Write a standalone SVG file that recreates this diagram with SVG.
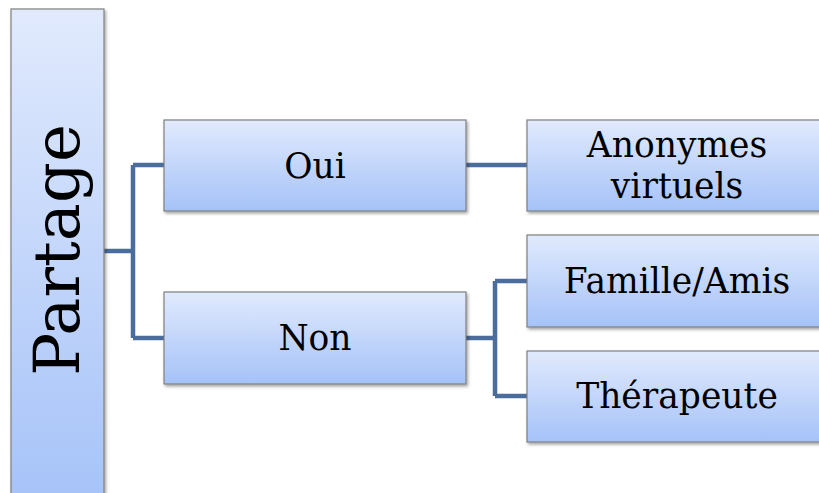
<svg xmlns="http://www.w3.org/2000/svg" width="819" height="493" viewBox="0 0 819 493">
<defs>
<linearGradient id="g" x1="0" y1="0" x2="0" y2="1">
<stop offset="0" stop-color="#e1eafd"/>
<stop offset="1" stop-color="#a5c2f8"/>
</linearGradient>
<filter id="sh" x="-10%" y="-10%" width="130%" height="130%">
<feDropShadow dx="1.5" dy="2" stdDeviation="1.5" flood-color="#000" flood-opacity="0.35"/>
</filter>
<style>
.box{fill:url(#g);stroke:#7f7f7f;stroke-width:1.2;filter:url(#sh)}
.t{font-family:"DejaVu Serif","Liberation Serif",serif;font-size:34.5px;fill:#000;text-anchor:middle}
.c{fill:none;stroke:#4a6d9c;stroke-width:4.5}
</style>
</defs>
<rect width="819" height="493" fill="#fff"/>
<g id="connectors">
<path class="c" d="M104 251 H133 M133 165 V338 M133 165 H164 M133 338 H164"/>
<path class="c" d="M466 165 H527"/>
<path class="c" d="M466 338 H495 M495 281 V396 M495 281 H527 M495 396 H527"/>
</g>
<g id="partage">
<rect class="box" x="11" y="9" width="93" height="500"/>
<text class="t" style="font-size:64px" transform="translate(79,250) rotate(-90)">Partage</text>
</g>
<g id="oui">
<rect class="box" x="164" y="120" width="302" height="91"/>
<text class="t" x="315" y="178">Oui</text>
</g>
<g id="non">
<rect class="box" x="164" y="292" width="302" height="92"/>
<text class="t" x="315" y="350">Non</text>
</g>
<g id="anonymes">
<rect class="box" x="527" y="120" width="302" height="91"/>
<text class="t" x="677" y="157">Anonymes</text>
<text class="t" x="677" y="198">virtuels</text>
</g>
<g id="famille">
<rect class="box" x="527" y="235" width="302" height="92"/>
<text class="t" x="677" y="293">Famille/Amis</text>
</g>
<g id="therapeute">
<rect class="box" x="527" y="351" width="302" height="91"/>
<text class="t" x="677" y="408">Thérapeute</text>
</g>
</svg>
